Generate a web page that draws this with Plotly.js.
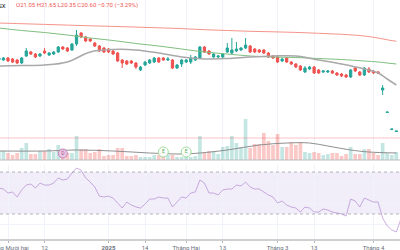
<!DOCTYPE html>
<html><head><meta charset="utf-8">
<script src="https://cdn.plot.ly/plotly-3.0.1.min.js"></script>
<style>html,body{margin:0;padding:0;background:#fff;}#c{width:400px;height:250px;}</style>
</head><body><div id="c"></div>
<script>
const dates = ["2024-11-28","2024-11-29","2024-12-02","2024-12-03","2024-12-04","2024-12-05","2024-12-06","2024-12-09","2024-12-10","2024-12-11","2024-12-12","2024-12-13","2024-12-16","2024-12-17","2024-12-18","2024-12-19","2024-12-20","2024-12-23","2024-12-24","2024-12-25","2024-12-26","2024-12-27","2024-12-30","2024-12-31","2025-01-02","2025-01-03","2025-01-06","2025-01-07","2025-01-08","2025-01-09","2025-01-10","2025-01-13","2025-01-14","2025-01-15","2025-01-16","2025-01-17","2025-01-20","2025-01-21","2025-01-22","2025-01-23","2025-01-24","2025-02-03","2025-02-04","2025-02-05","2025-02-06","2025-02-07","2025-02-10","2025-02-11","2025-02-12","2025-02-13","2025-02-14","2025-02-17","2025-02-18","2025-02-19","2025-02-20","2025-02-21","2025-02-24","2025-02-25","2025-02-26","2025-02-27","2025-02-28","2025-03-03","2025-03-04","2025-03-05","2025-03-06","2025-03-07","2025-03-10","2025-03-11","2025-03-12","2025-03-13","2025-03-14","2025-03-17","2025-03-18","2025-03-19","2025-03-20","2025-03-21","2025-03-24","2025-03-25","2025-03-26","2025-03-27","2025-03-28","2025-03-31","2025-04-01","2025-04-02","2025-04-03","2025-04-04","2025-04-07","2025-04-08","2025-04-09"];

const open  = [28.4,28.4,28.6,28.5,28.4,28.1,28.8,29.2,29.0,28.8,29.3,28.9,29.0,29.2,29.7,29.6,29.4,30.0,31.1,30.7,30.5,30.1,29.8,29.6,29.5,29.3,29.1,28.4,28.3,28.3,28.1,27.4,27.9,28.1,28.2,28.6,28.6,28.4,28.4,27.6,28.0,28.2,28.2,28.4,28.6,29.7,29.3,28.7,28.7,28.7,29.2,29.1,29.3,29.4,29.6,29.8,29.5,29.4,29.4,29.1,28.8,28.7,28.3,28.6,28.2,28.0,27.8,27.2,27.5,27.7,27.4,27.2,27.2,27.3,27.1,27.0,26.9,26.7,27.6,27.2,26.9,27.5,27.3,27.2,25.4,23.15,21.45,21.25];
const high  = [28.7,28.7,28.7,28.6,28.5,28.7,29.6,29.3,29.1,29.1,29.6,29.2,29.3,29.8,29.8,29.7,30.1,31.4,31.2,30.8,30.6,30.2,29.9,29.7,29.6,29.4,29.2,28.5,28.4,28.4,28.2,27.8,28.3,28.5,28.7,28.7,28.7,28.7,28.5,28.0,28.5,28.5,28.9,28.8,29.8,29.8,29.4,29.1,28.9,29.1,30.1,30.6,30.2,29.7,30.6,29.9,29.6,29.5,29.5,29.2,28.9,28.8,28.6,28.7,28.3,28.1,27.9,27.8,27.8,27.8,27.5,27.4,27.4,27.4,27.2,27.1,27.0,27.5,27.7,27.3,27.7,27.7,27.4,27.3,25.9,23.2,21.5,21.3];
const low   = [28.3,28.3,28.2,28.1,28.0,28.0,28.7,28.9,28.6,28.7,29.0,28.8,28.9,29.1,29.4,29.2,29.3,29.8,30.6,30.2,30.2,29.7,29.2,29.1,29.1,28.9,28.2,27.6,27.9,28.0,27.5,27.3,27.8,28.0,28.1,28.1,28.3,28.3,27.5,27.5,27.7,28.1,28.0,28.3,28.5,29.1,28.9,28.6,28.6,28.6,29.1,28.9,29.2,29.3,29.5,29.1,29.1,29.1,29.0,28.6,28.5,28.1,28.2,28.1,27.9,27.6,27.3,27.1,27.4,27.0,27.0,27.1,27.1,27.0,26.8,26.7,26.6,26.6,27.2,26.8,26.8,27.1,27.0,27.0,24.9,23.15,21.45,21.25];
const close = [28.6,28.6,28.3,28.2,28.1,28.6,29.3,29.0,28.7,29.0,29.1,29.1,29.2,29.7,29.5,29.3,30.0,30.9,30.7,30.3,30.3,29.8,29.3,29.2,29.2,29.0,28.3,28.1,28.0,28.1,27.7,27.7,28.2,28.4,28.6,28.2,28.4,28.5,27.6,27.9,28.4,28.4,28.6,28.7,29.7,29.2,29.0,29.0,28.8,29.0,29.6,29.4,29.5,29.6,29.9,29.2,29.2,29.2,29.1,28.7,28.6,28.2,28.5,28.2,28.0,27.7,27.4,27.6,27.7,27.1,27.1,27.3,27.3,27.1,26.9,26.8,26.7,27.4,27.3,26.9,27.6,27.2,27.1,27.1,25.6,23.2,21.5,21.3];
const volume = [0.9,0.9,0.7,0.5,0.7,1.2,1.7,0.6,0.6,0.9,0.9,1.1,0.8,1.5,1.0,0.7,0.7,2.4,1.1,1.1,0.7,0.8,1.1,0.4,0.5,0.5,1.2,1.2,0.4,0.4,0.5,0.3,0.3,0.3,0.5,0.5,0.4,0.5,0.5,0.3,0.3,0.4,0.3,0.4,2.4,0.7,0.9,0.9,0.6,1.3,1.4,2.4,1.7,1.3,4.1,1.2,1.6,1.6,2.7,1.9,1.5,2.6,1.3,1.3,1.8,1.5,1.8,0.8,0.7,0.8,0.7,0.5,0.6,0.7,0.7,0.4,0.6,1.3,0.6,0.6,1.1,1.1,0.7,0.5,1.7,0.7,0.5,0.8];

const maDates = ["2024-11-28","2024-12-05","2024-12-12","2024-12-19","2024-12-26","2025-01-03","2025-01-10","2025-01-17","2025-01-24","2025-02-07","2025-02-14","2025-02-21","2025-02-28","2025-03-07","2025-03-14","2025-03-21","2025-03-28","2025-04-02","2025-04-04","2025-04-08"];
const maRed   = [32.10,32.03,31.96,31.89,31.82,31.76,31.69,31.62,31.54,31.43,31.35,31.27,31.22,31.16,31.07,30.97,30.80,30.60,30.42,30.27];
const maGreen = [31.6,31.35,31.15,30.9,30.6,30.35,30.05,29.8,29.5,29.2,29.0,28.8,28.7,28.65,28.55,28.45,28.3,28.2,28.1,28.0];
const maGray  = [27.8,27.85,27.9,28.2,29.2,29.45,29.4,29.1,28.7,28.5,28.55,28.7,28.8,28.8,28.4,28.0,27.5,27.1,26.5,25.9];

const volMaDates = ["2024-11-28","2024-12-12","2024-12-23","2025-01-03","2025-01-15","2025-01-24","2025-02-06","2025-02-14","2025-02-25","2025-03-05","2025-03-12","2025-03-18","2025-03-25","2025-03-31","2025-04-08"];
const volMa = [0.9,0.9,1.0,0.9,0.7,0.6,0.7,1.0,1.5,1.7,1.7,1.4,1.0,0.8,0.7];

const rsi = [54.8,53.8,50.0,51.0,46.2,52.9,57.6,58.6,54.8,59.5,57.6,57.6,59.5,64.3,62.4,63.3,69.0,73.8,71.9,64.3,60.5,55.7,47.1,46.2,47.1,45.2,40.5,35.7,41.4,38.6,36.7,35.7,39.5,44.3,44.3,46.2,45.2,45.2,36.7,41.4,46.2,45.2,50.0,51.0,62.4,59.5,50.0,50.0,48.1,52.9,53.8,53.8,57.6,56.7,60.5,55.7,53.8,53.8,51.0,48.1,46.2,40.5,42.4,38.6,36.7,35.7,31.9,36.7,35.7,31.9,31.9,34.8,33.8,31.9,31.0,30.0,28.1,44.3,42.4,36.7,45.2,43.3,41.4,41.4,26.2,18.6,14.8,12.9,25.2];

const tickDates = ["2024-12-02","2024-12-12","2025-01-02","2025-01-14","2025-02-03","2025-02-13","2025-03-03","2025-03-13","2025-04-01"];
const tickLabels = ["Tháng Mười hai","12","<b>2025</b>","14","Tháng Hai","13","Tháng 3","13","Tháng 4"];

const earningsDates = ["2025-01-20","2025-02-03"];
const dividendDates = ["2024-12-18"];

const header = {symbol:"HSX", o:"21.05", h:"21.65", l:"20.35", c:"20.60", chg:"−0.70 (−3.29%)"};
const LAST_CLOSE = 20.60;

const UP = "#26a69a", DN = "#ef5350";
const n = close.length;
const cd = dates.slice(0, n);
const volColors = close.map((c,i)=> c >= open[i] ? "rgba(38,166,154,0.28)" : "rgba(239,83,80,0.32)");

const traces = [
  {type:"bar", x:cd, y:volume, marker:{color:volColors, line:{width:0}}, xaxis:"x", yaxis:"y", hoverinfo:"skip"},
  {type:"scatter", mode:"lines", x:volMaDates, y:volMa, line:{color:"#8f8f8f", width:1, shape:"spline"}, xaxis:"x", yaxis:"y"},
  {type:"scatter", mode:"markers+text", x:dividendDates, y:[0.65], text:["D"], textposition:"middle center",
   textfont:{size:5, color:"#b0529a", family:"Roboto"},
   marker:{size:9, color:"rgba(230,200,225,0.9)", line:{color:"#c77dba", width:1}}, xaxis:"x", yaxis:"y"},
  {type:"scatter", mode:"markers+text", x:earningsDates, y:[0.8,0.8], text:["E","E"], textposition:"middle center",
   textfont:{size:5, color:"#4caf50", family:"Roboto"},
   marker:{size:10, color:"rgba(255,255,255,0.9)", line:{color:"#9fdc9f", width:1}}, xaxis:"x", yaxis:"y"},
  {type:"scatter", mode:"lines", x:maDates, y:maRed, line:{color:"#f4948a", width:1, shape:"spline"}, xaxis:"x", yaxis:"y2"},
  {type:"scatter", mode:"lines", x:maDates, y:maGreen, line:{color:"#7fbf7f", width:1, shape:"spline"}, xaxis:"x", yaxis:"y2"},
  {type:"scatter", mode:"lines", x:maDates, y:maGray, line:{color:"#a9a9a9", width:1.5, shape:"spline"}, xaxis:"x", yaxis:"y2"},
  {type:"candlestick", x:cd, open:open, high:high, low:low, close:close, xaxis:"x", yaxis:"y2",
   increasing:{line:{color:UP, width:1}, fillcolor:UP},
   decreasing:{line:{color:DN, width:1}, fillcolor:DN}, whiskerwidth:0},
  {type:"scatter", mode:"lines", x:dates, y:rsi, line:{color:"rgba(160,110,200,0.55)", width:1}, xaxis:"x", yaxis:"y3"}
];

const priceDomain = [(239-160)/239, 1];
const rsiDomain = [0, (239-165)/239];

const layout = {
  width:400, height:250, margin:{l:0,r:0,t:0,b:11},
  paper_bgcolor:"#fff", plot_bgcolor:"#fff", showlegend:false,
  font:{family:"Roboto, sans-serif", size:6, color:"#787b86"},
  xaxis:{type:"category", categoryorder:"array", categoryarray:dates, range:[0.25, 87.8],
    anchor:"y3", rangeslider:{visible:false},
    tickmode:"array", tickvals:tickDates, ticktext:tickLabels,
    ticks:"outside", ticklen:2, tickcolor:"#b2b5be", tickfont:{size:6, color:"#6a6d78"},
    showgrid:true, gridcolor:"#f0f3fa", gridwidth:1,
    showline:true, linecolor:"#cfcfcf", linewidth:1.5, zeroline:false, fixedrange:true},
  yaxis:{domain:priceDomain, range:[0,16], visible:false, showgrid:false, zeroline:false},
  yaxis2:{overlaying:"y", range:[18.4,34.4], visible:false, showgrid:false, zeroline:false},
  yaxis3:{domain:rsiDomain, range:[6.2,76.7], showticklabels:false, tickmode:"array", tickvals:[20,40,60],
    showgrid:true, gridcolor:"#f0f3fa", zeroline:false, ticks:""},
  shapes:[
    {type:"rect", xref:"paper", yref:"y3", x0:0, x1:1, y0:30, y1:70, fillcolor:"rgba(126,87,194,0.10)", line:{width:0}, layer:"below"},
    {type:"line", xref:"paper", yref:"y3", x0:0, x1:1, y0:70, y1:70, line:{color:"rgba(120,123,134,0.55)", width:1, dash:"dot"}},
    {type:"line", xref:"paper", yref:"y3", x0:0, x1:1, y0:30, y1:30, line:{color:"rgba(120,123,134,0.55)", width:1, dash:"dot"}},
    {type:"line", xref:"paper", yref:"y2", x0:0, x1:1, y0:LAST_CLOSE, y1:LAST_CLOSE, line:{color:"rgba(242,54,69,0.3)", width:1}},
    {type:"line", xref:"paper", yref:"paper", x0:0, x1:1, y0:priceDomain[0], y1:priceDomain[0], line:{color:"#bdbdbd", width:1}}
  ],
  annotations:[
    {xref:"paper", yref:"paper", x:8/400, y:(239-5)/239, xanchor:"right", yanchor:"middle", showarrow:false,
     text:header.symbol, font:{size:6, color:"#131722", family:"Roboto"}},
    {xref:"paper", yref:"paper", x:14/400, y:(239-5)/239, xanchor:"left", yanchor:"middle", showarrow:false,
     text:"O"+header.o+" H"+header.h+" L"+header.l+" C"+header.c+" "+header.chg, font:{size:6, color:"#ef5350", family:"Roboto"}}
  ]
};

Plotly.newPlot("c", traces, layout, {staticPlot:true, displayModeBar:false});
</script>
</body></html>
